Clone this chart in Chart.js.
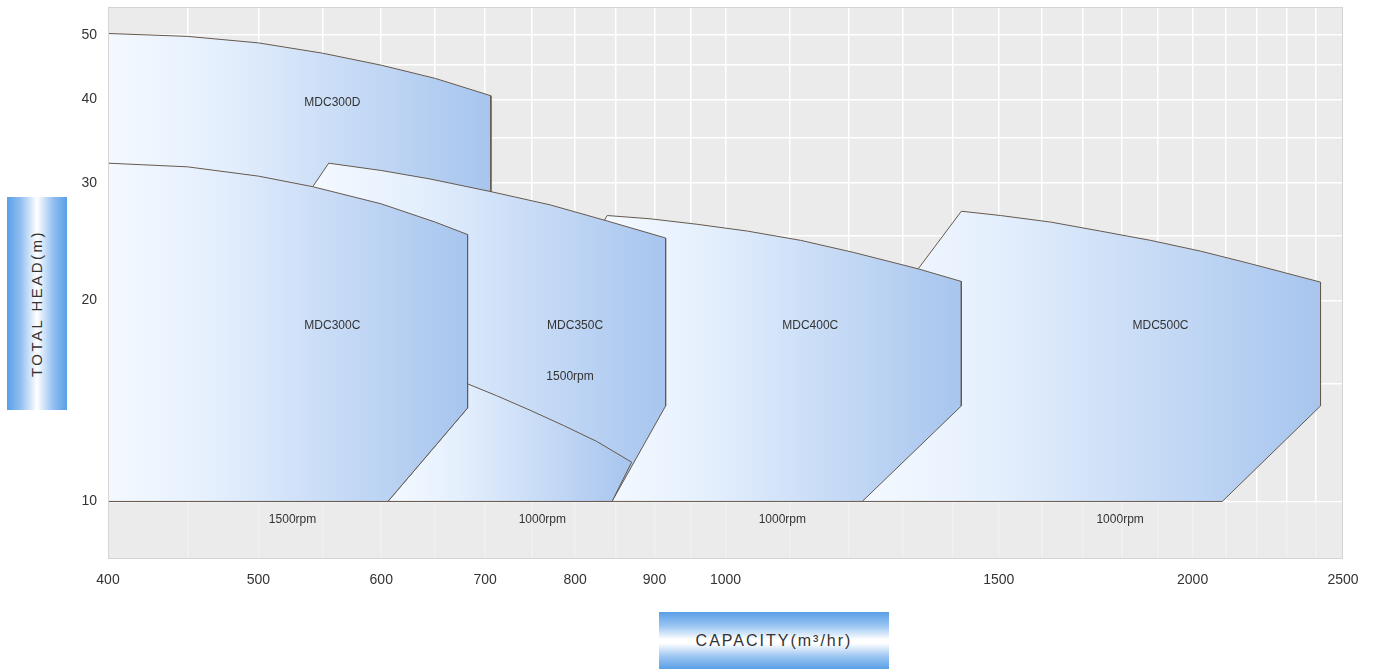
<!DOCTYPE html>
<html>
<head>
<meta charset="utf-8">
<title>MDC pump selection chart</title>
<script src="https://cdn.jsdelivr.net/npm/chart.js@4.4.1/dist/chart.umd.min.js"></script>
<style>
  html, body { margin: 0; padding: 0; background: #fff; }
  #wrap { position: relative; width: 1375px; height: 670px; overflow: hidden; }
  #chart { position: absolute; left: 0; top: 0; }
  .ttl { position: absolute; color: #333; font-family: "Liberation Sans", Arial, sans-serif;
         display: flex; align-items: center; justify-content: center; }
  #ytitle { left: 7px; top: 197px; width: 60px; height: 213px;
            background: linear-gradient(to right, #5a9fe6 0%, #8fbdf0 22%, #ffffff 50%, #8fbdf0 78%, #5a9fe6 100%); }
  #ytitle span { transform: rotate(-90deg); white-space: nowrap; font-size: 15px; letter-spacing: 2.5px; }
  #xtitle { left: 659px; top: 612px; width: 230px; height: 57px; font-size: 16px; letter-spacing: 2px;
            background: linear-gradient(to bottom, #5a9fe6 0%, #9cc6f2 25%, #ffffff 48%, #ffffff 55%, #9cc6f2 78%, #5a9fe6 100%); }
</style>
</head>
<body>
<div id="wrap">
  <canvas id="chart" width="1375" height="670"></canvas>
  <div class="ttl" id="ytitle"><span>TOTAL HEAD(m)</span></div>
  <div class="ttl" id="xtitle">CAPACITY(m³/hr)</div>
</div>
<script>
/* ---- axes ---- */
const qGrid = [400, 450, 500, 550, 600, 650, 700, 750, 800, 850, 900, 950, 1000,
               1100, 1200, 1300, 1400, 1500, 1600, 1700, 1800, 1900, 2000, 2100, 2200, 2300, 2400, 2500];
const qLabels = [400, 500, 600, 700, 800, 900, 1000, 1500, 2000, 2500];
const hGrid = [10, 15, 20, 25, 30, 35, 40, 45, 50];
const hLabels = [10, 20, 30, 40, 50];
const hBase = 10; // rpm band sits below this head

/* ---- operating regions: capacity (m3/hr) / head (m) outline points ---- */
const mdc300dQ = [400, 450, 500, 550, 600, 650, 706, 706, 400, 400];
const mdc300dH = [50.2, 49.7, 48.6, 46.9, 45.0, 43.0, 40.5, 10, 10, 50.2];

const mdc300cQ = [400, 450, 500, 542, 600, 650, 682, 682, 606, 400, 400];
const mdc300cH = [32.1, 31.7, 30.7, 29.6, 27.9, 26.2, 25.1, 13.8, 10, 10, 32.1];

const mdc350cHiQ = [555, 600, 645, 706, 771, 839, 915, 915, 845, 542, 542, 555];
const mdc350cHiH = [32.1, 31.3, 30.4, 29.1, 27.8, 26.3, 24.8, 13.9, 10, 10, 29.6, 32.1];

const mdc350cLoQ = [682, 712, 748, 786, 826, 870, 845, 606, 682, 682];
const mdc350cLoH = [15.0, 14.4, 13.7, 13.0, 12.3, 11.45, 10, 10, 13.8, 15.0];

const mdc400cQ = [835, 839, 894, 959, 1033, 1118, 1209, 1331, 1419, 1419, 1225, 845, 835];
const mdc400cH = [26.3, 26.8, 26.5, 26.0, 25.4, 24.6, 23.6, 22.3, 21.35, 13.9, 10, 10, 26.3];

const mdc500cQ = [1419, 1504, 1620, 1744, 1879, 2024, 2179, 2418, 2418, 2090, 1225, 1331, 1419];
const mdc500cH = [27.2, 26.8, 26.2, 25.4, 24.6, 23.7, 22.7, 21.3, 13.9, 10, 10, 22.3, 27.2];

/* ---- text tags ---- */
const tagText = ['MDC300D', 'MDC300C', 'MDC350C', '1500rpm', 'MDC400C', 'MDC500C',
                 '1500rpm', '1000rpm', '1000rpm', '1000rpm'];
const tagQ = [558, 558, 800, 794, 1134, 1907, 526, 762, 1088, 1796];
const tagH = [39.6, 18.3, 18.3, 15.4, 18.3, 18.3, 9.4, 9.4, 9.4, 9.4];

const pts = (qs, hs) => qs.map((q, i) => ({ x: q, y: hs[i] }));

function regionFill(ctx) {
  const chart = ctx.chart;
  if (!chart.chartArea || !chart.scales.x) return 'rgba(200,220,245,0.9)';
  const qs = ctx.dataset.data.map(p => p.x);
  const x0 = chart.scales.x.getPixelForValue(Math.min(...qs));
  const x1 = chart.scales.x.getPixelForValue(Math.max(...qs));
  const g = chart.ctx.createLinearGradient(x0, 0, x1, 0);
  g.addColorStop(0, '#f4f9ff');
  g.addColorStop(0.3, '#e4effd');
  g.addColorStop(1, '#a7c5ee');
  return g;
}

function region(name, qs, hs) {
  return {
    label: name, data: pts(qs, hs), showLine: true, tension: 0,
    pointRadius: 0, borderColor: '#66594d', borderWidth: 1,
    backgroundColor: regionFill, fill: 'shape',
  };
}

const plotBg = {
  id: 'plotBg',
  beforeDraw(chart) {
    const { ctx, chartArea: a } = chart;
    ctx.save();
    ctx.fillStyle = '#ebebeb';
    ctx.fillRect(a.left, a.top, a.right - a.left, a.bottom - a.top);
    ctx.restore();
  },
  beforeDatasetsDraw(chart) {
    // soften the grid inside the rpm band under 10 m
    const { ctx, chartArea: a, scales: { y } } = chart;
    const top = y.getPixelForValue(hBase) + 1;
    ctx.save();
    ctx.fillStyle = 'rgba(235,235,235,0.7)';
    ctx.fillRect(a.left, top, a.right - a.left, a.bottom - top);
    ctx.restore();
  },
  afterDraw(chart) {
    const { ctx, chartArea: a } = chart;
    ctx.save();
    ctx.strokeStyle = '#d4d4d4';
    ctx.lineWidth = 1;
    ctx.strokeRect(a.left + 0.5, a.top + 0.5, a.right - a.left - 1, a.bottom - a.top - 1);
    ctx.restore();
  }
};

const tags = {
  id: 'tags',
  afterDatasetsDraw(chart) {
    const { ctx, scales: { x, y } } = chart;
    ctx.save();
    ctx.fillStyle = '#333';
    ctx.font = '12px "Liberation Sans", Arial, sans-serif';
    ctx.textAlign = 'center';
    ctx.textBaseline = 'middle';
    tagText.forEach((t, i) => ctx.fillText(t, x.getPixelForValue(tagQ[i]), y.getPixelForValue(tagH[i])));
    ctx.restore();
  }
};

const tickFont = { family: '"Liberation Sans Narrow", "Liberation Sans", Arial, sans-serif', size: 14 };

new Chart(document.getElementById('chart'), {
  type: 'scatter',
  data: {
    // first listed is drawn on top
    datasets: [
      region('MDC300C', mdc300cQ, mdc300cH),
      region('MDC350C 1000rpm', mdc350cLoQ, mdc350cLoH),
      region('MDC350C 1500rpm', mdc350cHiQ, mdc350cHiH),
      region('MDC300D', mdc300dQ, mdc300dH),
      region('MDC400C', mdc400cQ, mdc400cH),
      region('MDC500C', mdc500cQ, mdc500cH),
    ],
  },
  options: {
    responsive: false, animation: false, devicePixelRatio: 1,
    layout: { padding: { top: 7, right: 32, left: 0, bottom: 0 } },
    plugins: { legend: { display: false }, tooltip: { enabled: false } },
    scales: {
      x: {
        type: 'logarithmic', min: 400, max: 2500,
        afterBuildTicks: s => { s.ticks = qGrid.map(v => ({ value: v })); },
        afterFit: s => { s.height = 111; s.paddingLeft = 0; s.paddingRight = 0; },
        ticks: { autoSkip: false, maxRotation: 0, padding: 13, color: '#333', font: tickFont,
                 callback: v => qLabels.includes(v) ? String(v) : '' },
        grid: { color: '#ffffff', lineWidth: 1.5, drawTicks: false },
        border: { display: false },
      },
      y: {
        type: 'logarithmic', min: 8.2, max: 55,
        afterBuildTicks: s => { s.ticks = hGrid.map(v => ({ value: v })); },
        afterFit: s => { s.width = 108; s.paddingTop = 0; s.paddingBottom = 0; },
        ticks: { autoSkip: false, padding: 11, color: '#333', font: tickFont,
                 callback: v => hLabels.includes(v) ? String(v) : '' },
        grid: { color: '#ffffff', lineWidth: 1.5, drawTicks: false },
        border: { display: false },
      },
    },
  },
  plugins: [plotBg, tags],
});
</script>
</body>
</html>
